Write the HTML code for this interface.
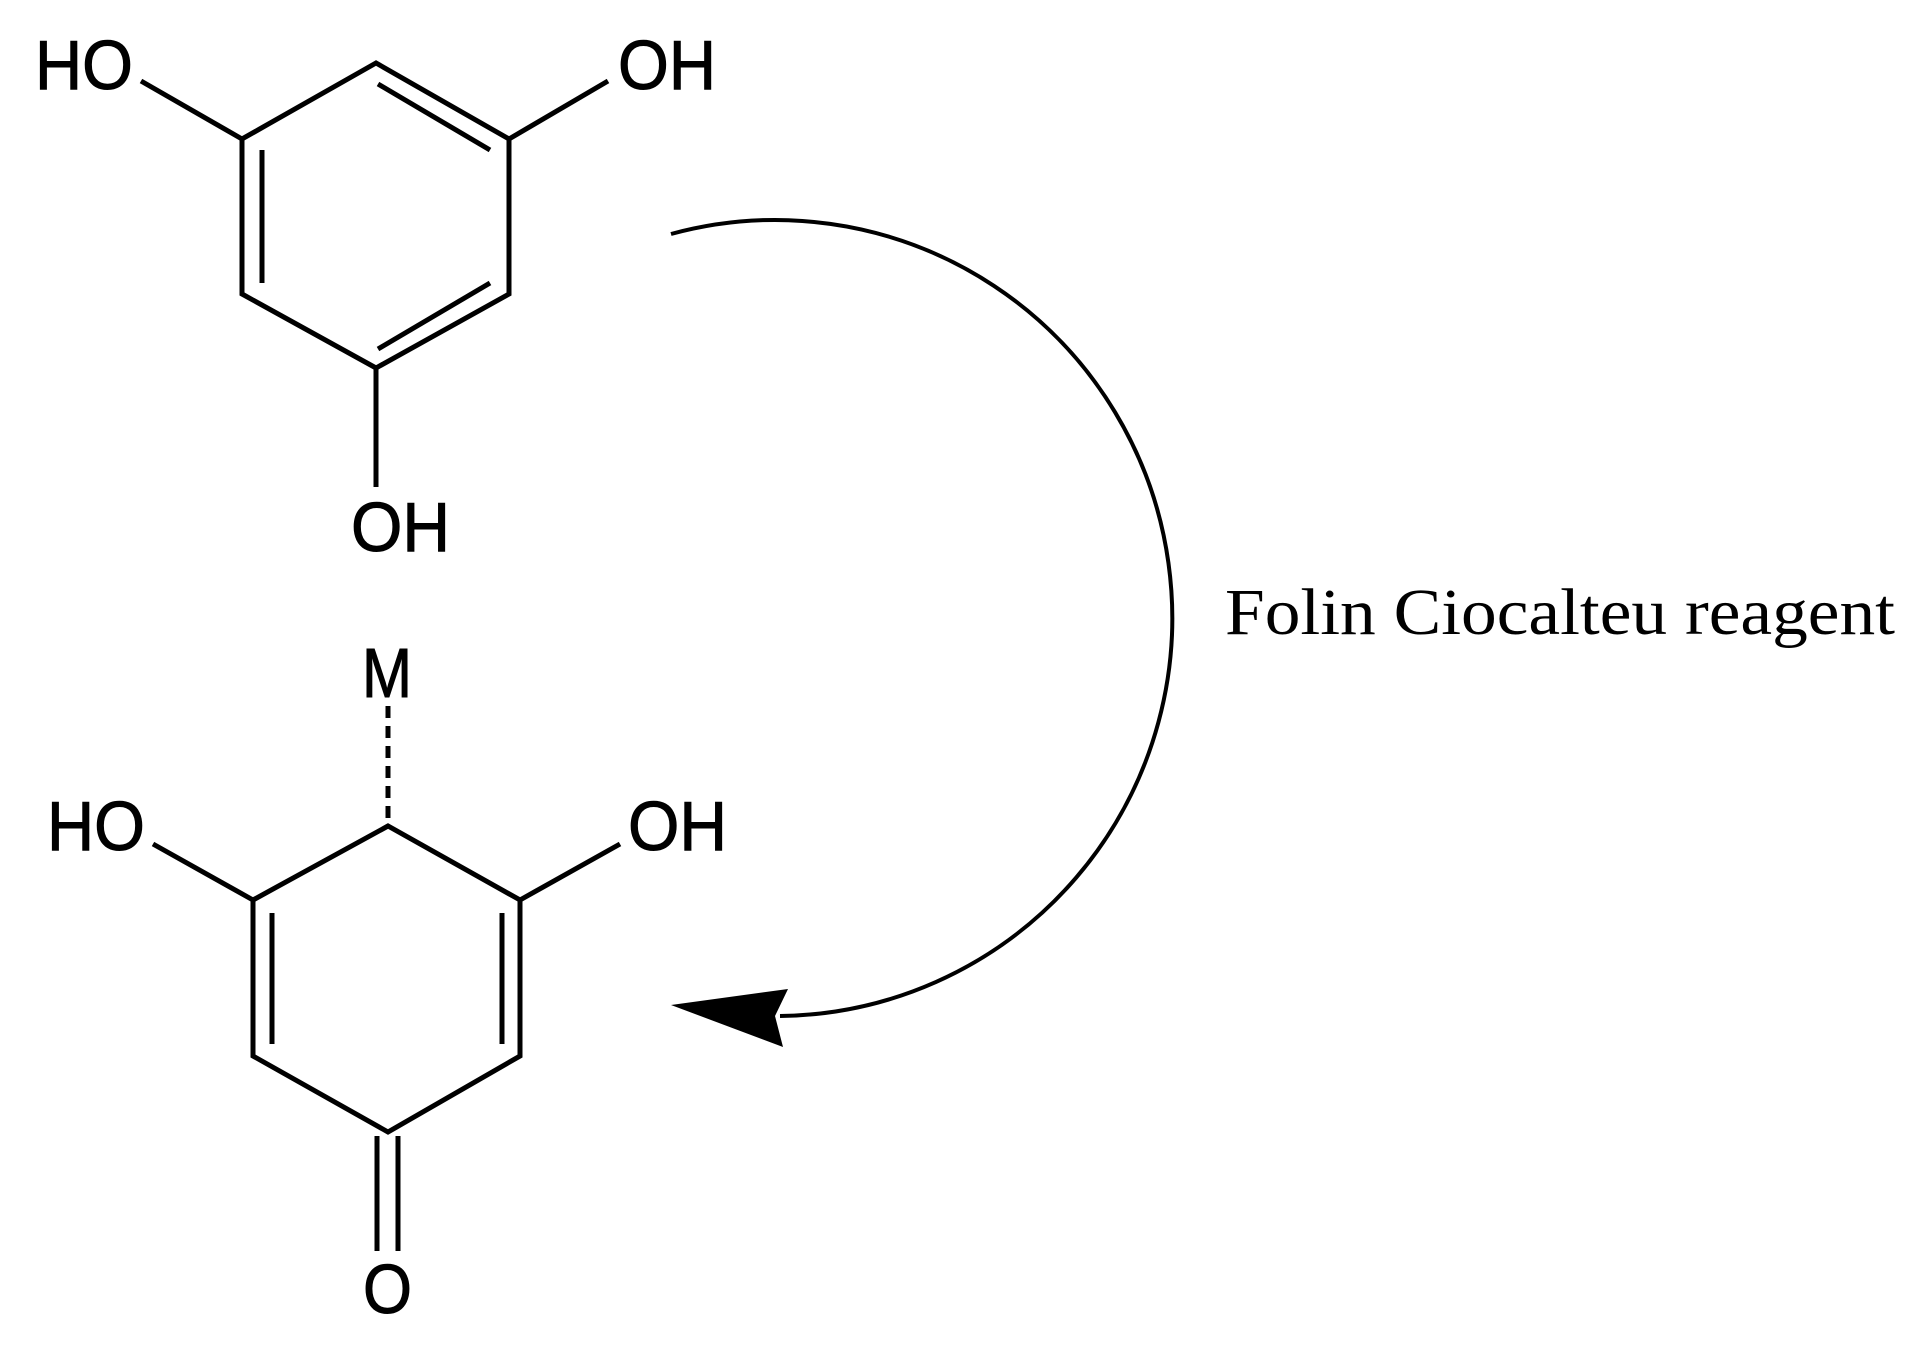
<!DOCTYPE html>
<html><head><meta charset="utf-8"><style>html,body{margin:0;padding:0;background:#fff}svg{display:block}</style></head>
<body>
<svg width="1920" height="1347" viewBox="0 0 1920 1347" xmlns="http://www.w3.org/2000/svg">
<g stroke="#000" stroke-width="5" fill="none" stroke-linecap="butt">
<path d="M376 63 L242 139 L242 294 L376 368 L509 294 L509 139 Z" stroke-linejoin="miter"/>
<line x1="262" y1="150" x2="262" y2="283"/>
<line x1="378" y1="84" x2="490" y2="150"/>
<line x1="378" y1="349" x2="490" y2="283"/>
<line x1="141" y1="81" x2="242" y2="139"/>
<line x1="509" y1="139" x2="608" y2="81"/>
<line x1="376" y1="368" x2="376" y2="487"/>

<path d="M388 826 L253 900 L253 1056 L388 1132 L520 1056 L520 900 Z"/>
<line x1="272" y1="913" x2="272" y2="1044"/>
<line x1="502" y1="913" x2="502" y2="1044"/>
<line x1="153" y1="844" x2="253" y2="900"/>
<line x1="520" y1="900" x2="620" y2="844"/>
<line x1="388" y1="706" x2="388" y2="826" stroke-dasharray="12,8"/>
<line x1="377" y1="1136" x2="377" y2="1251"/>
<line x1="398" y1="1136" x2="398" y2="1251"/>

<path d="M671 234 A397 398 0 1 1 780 1016" stroke-width="4"/>
</g>
<path d="M671 1005 L788 989 L775 1016 L783 1047 Z" fill="#000"/>
<g font-family="'Liberation Sans', Arial, sans-serif" font-size="70" fill="#000" stroke="#000" stroke-width="1">
<text x="35" y="89" textLength="98" lengthAdjust="spacingAndGlyphs">HO</text>
<text x="618" y="89" textLength="98" lengthAdjust="spacingAndGlyphs">OH</text>
<text x="351" y="551" textLength="99" lengthAdjust="spacingAndGlyphs">OH</text>
<text x="362" y="697" textLength="50" lengthAdjust="spacingAndGlyphs">M</text>
<text x="47" y="850" textLength="98" lengthAdjust="spacingAndGlyphs">HO</text>
<text x="628" y="850" textLength="99" lengthAdjust="spacingAndGlyphs">OH</text>
<text x="363" y="1313" textLength="49" lengthAdjust="spacingAndGlyphs">O</text>
</g>
<text x="1225" y="634" font-family="'Liberation Serif', 'Times New Roman', serif" font-size="66" textLength="670" lengthAdjust="spacingAndGlyphs" fill="#000">Folin Ciocalteu reagent</text>
</svg>
</body></html>
